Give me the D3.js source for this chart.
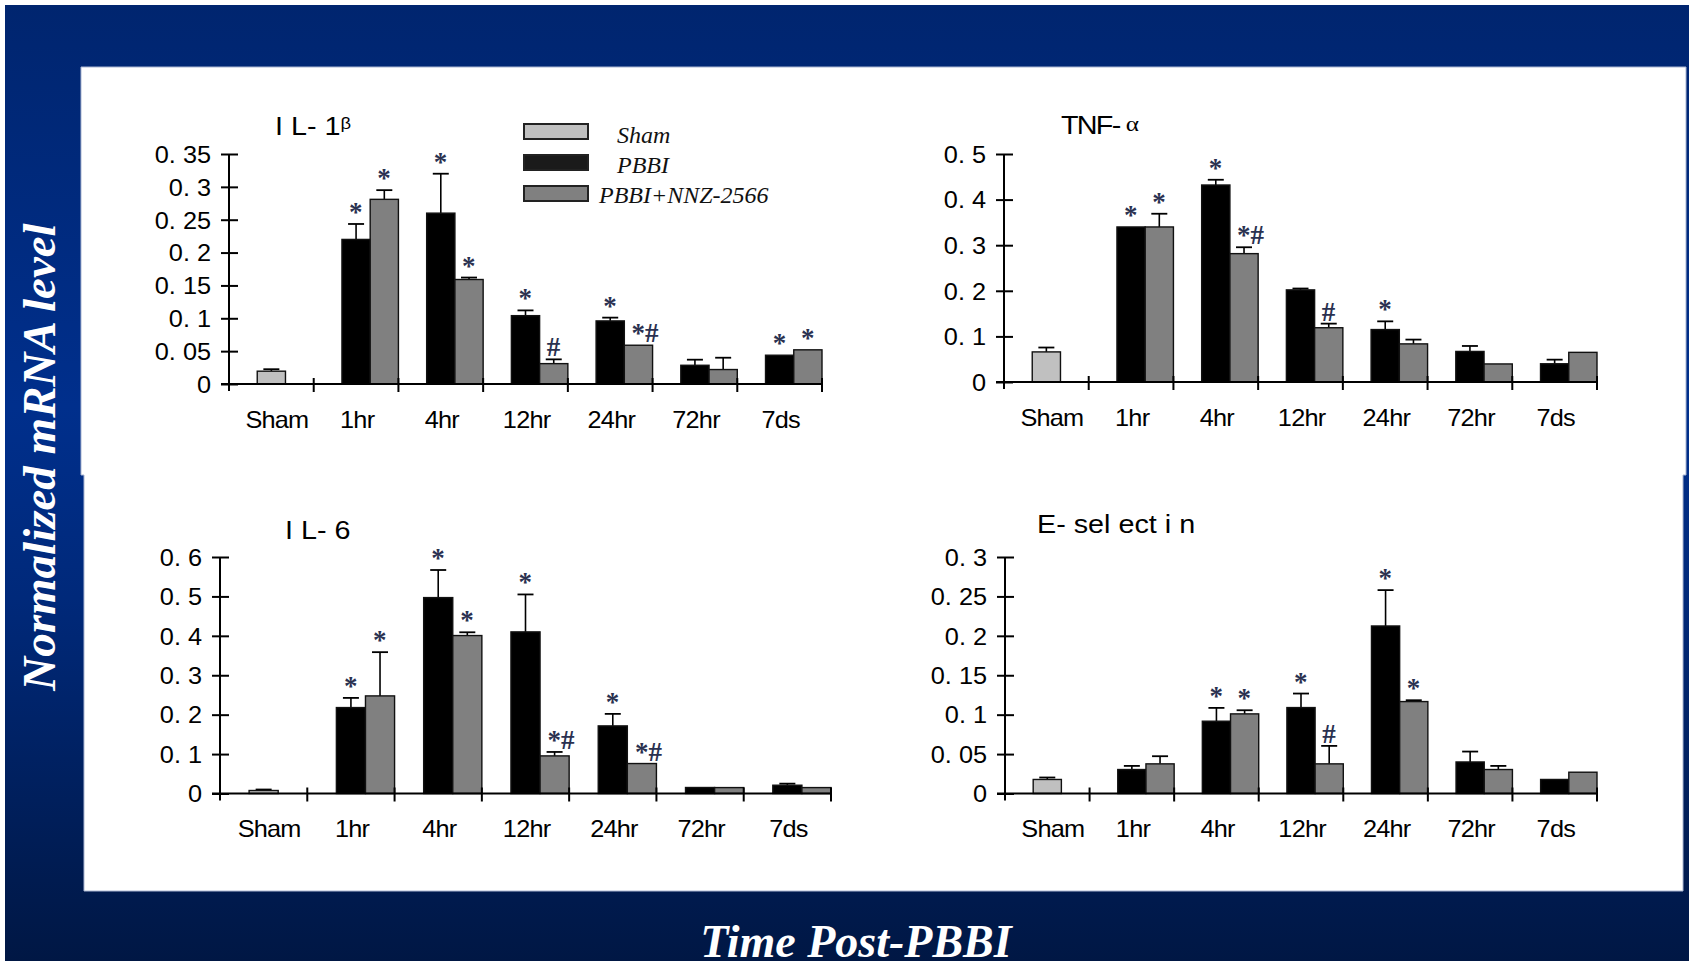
<!DOCTYPE html>
<html>
<head>
<meta charset="utf-8">
<script src="https://cdn.jsdelivr.net/npm/d3@7"></script>
<style>
  html, body { margin: 0; padding: 0; background: #fff; overflow: hidden; }
  svg { display: block; }
</style>
</head>
<body>
<svg id="fig" width="1689" height="961"></svg>
<script>
// ---------- data ----------
const categories = ["Sham", "1hr", "4hr", "12hr", "24hr", "72hr", "7ds"];
const timePoints = categories.slice(1);
const seriesNames = ["Sham", "PBBI", "PBBI+NNZ-2566"];
const seriesColors = ["#c0c0c0", "#000000", "#808080"];

// IL-1β
const il1bSham = 0.0195, il1bShamErr = 0.003;
const il1bPBBI = [0.220, 0.260, 0.104, 0.096, 0.0285, 0.0438];
const il1bPBBIErr = [0.0235, 0.060, 0.008, 0.005, 0.0085, 0];
const il1bNNZ = [0.281, 0.159, 0.031, 0.059, 0.022, 0.052];
const il1bNNZErr = [0.014, 0.003, 0.0065, 0, 0.018, 0];
const il1bSigPBBI = ["*", "*", "*", "*", "", "*"];
const il1bSigNNZ = ["*", "*", "#", "*#", "", "*"];
const il1bTickValues = [0, 0.05, 0.1, 0.15, 0.2, 0.25, 0.3, 0.35];
const il1bTickLabels = ["0", "0. 05", "0. 1", "0. 15", "0. 2", "0. 25", "0. 3", "0. 35"];

// TNF-α
const tnfSham = 0.066, tnfShamErr = 0.0096;
const tnfPBBI = [0.340, 0.432, 0.202, 0.115, 0.067, 0.040];
const tnfPBBIErr = [0, 0.0115, 0.003, 0.018, 0.012, 0.009];
const tnfNNZ = [0.340, 0.2815, 0.119, 0.0836, 0.0396, 0.065];
const tnfNNZErr = [0.029, 0.014, 0.009, 0.0094, 0, 0];
const tnfSigPBBI = ["*", "*", "", "*", "", ""];
const tnfSigNNZ = ["*", "*#", "#", "", "", ""];
const tnfTickValues = [0, 0.1, 0.2, 0.3, 0.4, 0.5];
const tnfTickLabels = ["0", "0. 1", "0. 2", "0. 3", "0. 4", "0. 5"];

// IL-6
const il6Sham = 0.0076, il6ShamErr = 0.0025;
const il6PBBI = [0.218, 0.497, 0.410, 0.1715, 0.0152, 0.021];
const il6PBBIErr = [0.0245, 0.070, 0.095, 0.0305, 0, 0.004];
const il6NNZ = [0.2476, 0.4007, 0.0954, 0.076, 0.015, 0.015];
const il6NNZErr = [0.111, 0.0083, 0.010, 0, 0, 0];
const il6SigPBBI = ["*", "*", "*", "*", "", ""];
const il6SigNNZ = ["*", "*", "*#", "*#", "", ""];
const il6TickValues = [0, 0.1, 0.2, 0.3, 0.4, 0.5, 0.6];
const il6TickLabels = ["0", "0. 1", "0. 2", "0. 3", "0. 4", "0. 5", "0. 6"];

// E-selectin
const eselSham = 0.0178, eselShamErr = 0.0025;
const eselPBBI = [0.0304, 0.0917, 0.109, 0.2125, 0.040, 0.0178];
const eselPBBIErr = [0.0046, 0.0169, 0.0178, 0.0455, 0.0132, 0];
const eselNNZ = [0.0376, 0.101, 0.0376, 0.1166, 0.0304, 0.027];
const eselNNZErr = [0.0097, 0.0046, 0.0228, 0.0017, 0.0046, 0];
const eselSigPBBI = ["", "*", "*", "*", "", ""];
const eselSigNNZ = ["", "*", "#", "*", "", ""];
const eselTickValues = [0, 0.05, 0.1, 0.15, 0.2, 0.25, 0.3];
const eselTickLabels = ["0", "0. 05", "0. 1", "0. 15", "0. 2", "0. 25", "0. 3"];

// ---------- page ----------
const W = 1689, H = 961;
const svg = d3.select("#fig");
const SANS = "'Liberation Sans', Arial, sans-serif";
const SERIF = "'Liberation Serif', 'Times New Roman', serif";
const SX = 1.1; // horizontal stretch of the chart lettering

const defs = svg.append("defs");
const grad = defs.append("linearGradient").attr("id", "bg")
  .attr("x1", 0).attr("y1", 0).attr("x2", 0).attr("y2", 1);
[["0%", "#00256f"], ["42%", "#002f8c"], ["62%", "#00297a"], ["100%", "#001744"]]
  .forEach(([o, c]) => grad.append("stop").attr("offset", o).attr("stop-color", c));

svg.append("rect").attr("width", W).attr("height", H).attr("fill", "#ffffff");
svg.append("rect").attr("x", 5).attr("y", 5).attr("width", W - 5).attr("height", H - 5)
  .attr("fill", "url(#bg)");

// white backing sheet behind the four charts
svg.append("path")
  .attr("d", "M81,67 H1686 V475 H1683 V891 H84 V475 H81 Z")
  .attr("fill", "#ffffff").attr("stroke", "#aab6d2").attr("stroke-width", 1);

// axis titles
svg.append("text")
  .attr("transform", "translate(55,457) rotate(-90)")
  .attr("text-anchor", "middle")
  .attr("font-family", SERIF).attr("font-style", "italic").attr("font-weight", "bold")
  .attr("font-size", 47).attr("fill", "#ffffff")
  .text("Normalized mRNA level");

svg.append("text")
  .attr("x", 856).attr("y", 957)
  .attr("text-anchor", "middle")
  .attr("font-family", SERIF).attr("font-style", "italic").attr("font-weight", "bold")
  .attr("font-size", 46).attr("fill", "#ffffff")
  .text("Time Post-PBBI");

// ---------- panels ----------
const panels = [
  { title: "I L- 1", greek: "β", gx: 275, gy: 135, titleSpacing: 0,
    sham: il1bSham, shamErr: il1bShamErr, pbbi: il1bPBBI, pbbiErr: il1bPBBIErr,
    nnz: il1bNNZ, nnzErr: il1bNNZErr, sigP: il1bSigPBBI, sigN: il1bSigNNZ,
    max: 0.35, ticks: il1bTickValues, labels: il1bTickLabels,
    x0: 229, x1: 822, y0: 384, yTop: 154 },
  { title: "TNF- ", greek: "α", gx: 1061, gy: 134, titleSpacing: -1.5,
    sham: tnfSham, shamErr: tnfShamErr, pbbi: tnfPBBI, pbbiErr: tnfPBBIErr,
    nnz: tnfNNZ, nnzErr: tnfNNZErr, sigP: tnfSigPBBI, sigN: tnfSigNNZ,
    max: 0.5, ticks: tnfTickValues, labels: tnfTickLabels,
    x0: 1004, x1: 1597, y0: 382, yTop: 154 },
  { title: "I L- 6", greek: "", gx: 285, gy: 539, titleSpacing: 0,
    sham: il6Sham, shamErr: il6ShamErr, pbbi: il6PBBI, pbbiErr: il6PBBIErr,
    nnz: il6NNZ, nnzErr: il6NNZErr, sigP: il6SigPBBI, sigN: il6SigNNZ,
    max: 0.6, ticks: il6TickValues, labels: il6TickLabels,
    x0: 220, x1: 831, y0: 793.5, yTop: 557 },
  { title: "E- sel ect i n", greek: "", gx: 1037, gy: 533, titleSpacing: 0,
    sham: eselSham, shamErr: eselShamErr, pbbi: eselPBBI, pbbiErr: eselPBBIErr,
    nnz: eselNNZ, nnzErr: eselNNZErr, sigP: eselSigPBBI, sigN: eselSigNNZ,
    max: 0.3, ticks: eselTickValues, labels: eselTickLabels,
    x0: 1005, x1: 1597, y0: 793.5, yTop: 557 }
];

function drawPanel(p) {
  const g = svg.append("g");
  const x = d3.scaleBand().domain(categories).range([p.x0, p.x1]).padding(0);
  const slot = d3.scaleBand().domain(["a", "b", "c"]).range([0, x.bandwidth()]).padding(0);
  const y = d3.scaleLinear().domain([0, p.max]).range([p.y0, p.yTop]);

  // one record per bar: the sham group sits in the middle slot,
  // each time point has PBBI (middle slot) and PBBI+NNZ-2566 (right slot)
  const bars = [{ cat: "Sham", s: "b", v: p.sham, e: p.shamErr, fill: seriesColors[0], sig: "" }];
  timePoints.forEach((t, i) => {
    bars.push({ cat: t, s: "b", v: p.pbbi[i], e: p.pbbiErr[i], fill: seriesColors[1], sig: p.sigP[i] });
    bars.push({ cat: t, s: "c", v: p.nnz[i], e: p.nnzErr[i], fill: seriesColors[2], sig: p.sigN[i] });
  });
  const cx = d => x(d.cat) + slot(d.s) + slot.bandwidth() / 2;

  // error bars (upper half only)
  const eb = g.selectAll("g.err").data(bars.filter(d => d.e > 0)).join("g").attr("class", "err");
  eb.append("line")
    .attr("x1", cx).attr("x2", cx)
    .attr("y1", d => y(d.v)).attr("y2", d => y(d.v + d.e))
    .attr("stroke", "#000").attr("stroke-width", 1.6);
  eb.append("line")
    .attr("x1", d => cx(d) - 8).attr("x2", d => cx(d) + 8)
    .attr("y1", d => y(d.v + d.e)).attr("y2", d => y(d.v + d.e))
    .attr("stroke", "#000").attr("stroke-width", 1.8);

  // bars
  g.selectAll("rect.bar").data(bars).join("rect").attr("class", "bar")
    .attr("x", d => x(d.cat) + slot(d.s))
    .attr("width", slot.bandwidth())
    .attr("y", d => y(d.v))
    .attr("height", d => y(0) - y(d.v))
    .attr("fill", d => d.fill)
    .attr("stroke", "#111").attr("stroke-width", 1.4);

  // significance marks
  g.selectAll("text.sig").data(bars.filter(d => d.sig)).join("text").attr("class", "sig")
    .attr("x", d => cx(d) - 7)
    .attr("y", d => y(d.v + d.e) - 3)
    .attr("font-family", SERIF).attr("font-weight", "bold")
    .attr("font-size", 27).attr("fill", "#2a3150")
    .text(d => d.sig);

  // y axis
  const ya = g.append("g").attr("transform", `translate(${p.x0},0)`)
    .call(d3.axisLeft(y).tickValues(p.ticks)
      .tickFormat((d, i) => p.labels[i]).tickSizeInner(8).tickSizeOuter(0));
  ya.select(".domain").remove();
  ya.selectAll(".tick line").attr("x1", 9).attr("x2", -8)
    .attr("stroke", "#000").attr("stroke-width", 2);
  ya.selectAll(".tick text")
    .attr("x", -18 / SX).attr("dy", "0.36em")
    .attr("transform", `scale(${SX},1)`)
    .attr("font-family", SANS).attr("font-size", 23).attr("fill", "#000");
  g.append("line").attr("x1", p.x0).attr("x2", p.x0)
    .attr("y1", p.yTop).attr("y2", p.y0 + 7)
    .attr("stroke", "#000").attr("stroke-width", 2);

  // x axis with category labels centred in each band
  const xa = g.append("g").attr("transform", `translate(0,${p.y0})`)
    .call(d3.axisBottom(x).tickSize(0));
  xa.select(".domain").remove();
  xa.selectAll(".tick text")
    .attr("x", (d, i) => (i === 0 ? 5 : 1))
    .attr("y", 44).attr("dy", 0)
    .attr("transform", `scale(${SX},1)`)
    .attr("letter-spacing", -0.7)
    .attr("font-family", SANS).attr("font-size", 23).attr("fill", "#000");
  g.append("line").attr("x1", p.x0 - 8).attr("x2", p.x1)
    .attr("y1", p.y0).attr("y2", p.y0)
    .attr("stroke", "#000").attr("stroke-width", 2);
  // category boundary ticks
  const bounds = categories.slice(1).map(c => x(c)).concat([p.x1]);
  g.selectAll("line.ctick").data(bounds).join("line").attr("class", "ctick")
    .attr("x1", d => d).attr("x2", d => d)
    .attr("y1", p.y0 - 6).attr("y2", p.y0 + 8)
    .attr("stroke", "#000").attr("stroke-width", 2);

  // title
  const t = g.append("text")
    .attr("transform", `translate(${p.gx},${p.gy}) scale(1.15,1)`)
    .attr("font-family", SANS).attr("font-size", 25).attr("fill", "#000");
  t.append("tspan").attr("letter-spacing", p.titleSpacing).text(p.title);
  if (p.greek === "β") {
    t.append("tspan").attr("font-size", 16).attr("dy", -6).text(p.greek);
  } else if (p.greek) {
    t.append("tspan").attr("font-family", SERIF).attr("font-size", 22).attr("dy", -3).text(p.greek);
  }
}
panels.forEach(drawPanel);

// ---------- legend ----------
const legendRows = [
  { name: seriesNames[0], color: seriesColors[0], by: 124, tx: 617, ty: 143 },
  { name: seriesNames[1], color: "#1a1a1a", by: 155, tx: 617, ty: 173 },
  { name: seriesNames[2], color: seriesColors[2], by: 186, tx: 599, ty: 203 }
];
const lg = svg.append("g");
lg.selectAll("rect").data(legendRows).join("rect")
  .attr("x", 524).attr("y", d => d.by).attr("width", 64).attr("height", 15)
  .attr("fill", d => d.color).attr("stroke", "#222").attr("stroke-width", 2);
lg.selectAll("text").data(legendRows).join("text")
  .attr("x", d => d.tx).attr("y", d => d.ty)
  .attr("font-family", SERIF).attr("font-style", "italic").attr("font-size", 24)
  .attr("fill", "#111")
  .text(d => d.name);
</script>
</body>
</html>
